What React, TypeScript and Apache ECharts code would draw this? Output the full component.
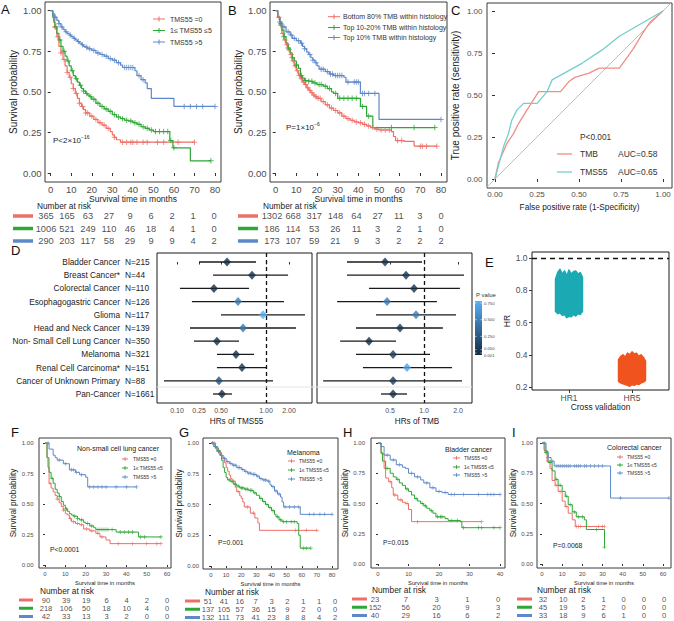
import React, { useEffect, useRef } from "react";
import * as echarts from "echarts";

const FONT = '"Liberation Sans", Arial, Helvetica, sans-serif';
const RED = "#EE6F68";
const GREEN = "#2DA736";
const BLUE = "#5D88C9";
const PLUS = "path://M4.1,0H5.9V4.1H10V5.9H5.9V10H4.1V5.9H0V4.1H4.1Z";

// ---------------- Panel A (TMS55 groups, pan-cancer) ----------------
const A_X_TICKS = [0, 10, 20, 30, 40, 50, 60, 70, 80];
const Y_TICKS = [0, 0.25, 0.5, 0.75, 1];
const A_LABELS = ["TMS55 =0", "1\u2264 TMS55 \u22645", "TMS55 >5"];
const A_TMS0 = [[0,1],[1,0.97],[2,0.9],[3,0.84],[4,0.78],[5,0.74],[6,0.7],[7,0.66],[8,0.62],[9,0.59],[10,0.55],[11,0.52],[12,0.49],[13,0.46],[14,0.43],[15,0.41],[16,0.39],[17,0.37],[19,0.35],[21,0.33],[23,0.31],[25,0.295],[27,0.275],[29,0.255],[30,0.235],[31,0.22],[32,0.205],[34,0.19],[70,0.19]];
const A_TMS0_CENS = [2,3.5,5,6.5,8,9.5,11,12.5,14,15.5,17,18,20,22,24,26,28,31,35,37,39,40,42,45,47,52,55,62,70];
const A_TMS15 = [[0,1],[1,0.96],[1.5,0.93],[2,0.9],[3,0.86],[4,0.82],[5,0.78],[6,0.75],[7,0.72],[8,0.69],[9,0.66],[10,0.63],[11,0.6],[12,0.58],[13,0.56],[14,0.54],[15,0.52],[16,0.505],[17,0.49],[18,0.48],[19,0.47],[20,0.455],[22,0.43],[24,0.41],[26,0.395],[28,0.38],[30,0.36],[32,0.345],[34,0.335],[36,0.325],[38,0.32],[40,0.31],[42,0.3],[44,0.285],[46,0.275],[48,0.265],[50,0.255],[58,0.2],[59.5,0.155],[68,0.075],[78,0.075]];
const A_TMS15_CENS = [2.5,4.5,6.5,8.5,10.5,12.5,14.5,16,17.5,19.5,21,23,25,27,29,31,33,35,37,39,41,43,45,47,49,51,53,55,57,58.5,60,78];
const A_TMS5 = [[0,1],[1,0.98],[2,0.96],[3,0.94],[4,0.92],[5,0.9],[6,0.885],[7,0.87],[8,0.86],[9,0.85],[10,0.84],[11,0.83],[12,0.82],[13,0.81],[14,0.8],[15,0.79],[16,0.78],[17,0.775],[18,0.765],[20,0.755],[22,0.74],[24,0.73],[26,0.72],[28,0.705],[30,0.695],[32,0.68],[34,0.665],[35,0.65],[41,0.63],[42,0.6],[44,0.575],[46,0.555],[47,0.52],[49,0.46],[60,0.41],[80,0.41]];
const A_TMS5_CENS = [2,4,5.5,7.5,9.5,11.5,13.5,15.5,17.5,19,21,23,25,27,29,31,33,36,37,38,39,40,43,45,65,68,71,74,80];
const A_RISK_TMS0 = [365,165,63,27,9,6,2,1,0];
const A_RISK_TMS15 = [1006,521,249,110,46,18,4,1,0];
const A_RISK_TMS5 = [290,203,117,58,29,9,9,4,2];

// ---------------- Panel B (TMB within histology) ----------------
const B_LABELS = ["Bottom 80% TMB within histology", "Top 10-20% TMB within histology", "Top 10% TMB within histology"];
const B_BOTTOM80 = [[0,1],[1,0.96],[2,0.91],[3,0.86],[4,0.82],[5,0.79],[6,0.76],[7,0.73],[8,0.69],[9,0.66],[10,0.63],[11,0.6],[12,0.58],[13,0.56],[14,0.545],[15,0.525],[16,0.51],[17,0.495],[18,0.48],[19,0.47],[20,0.46],[22,0.44],[24,0.42],[26,0.4],[28,0.385],[30,0.37],[32,0.35],[34,0.335],[36,0.325],[38,0.315],[40,0.31],[42,0.3],[44,0.29],[46,0.28],[48,0.27],[50,0.265],[56,0.255],[57,0.225],[58,0.2],[62,0.195],[67,0.165],[78,0.165]];
const B_BOTTOM80_CENS = [1.5,2.5,3.5,4.5,5.5,6.5,7.5,8.5,9.5,10.5,11.5,12.5,13.5,14.5,15.5,16.5,17.5,18.5,19.5,20.5,21.5,23,25,27,29,31,33,35,37,39,41,43,45,47,49,51,53,55,59,61,70,71,73,78];
const B_TOP1020 = [[0,1],[1,0.96],[2,0.92],[3,0.88],[4,0.84],[5,0.8],[6,0.77],[7,0.74],[8,0.71],[9,0.69],[10,0.665],[11,0.645],[12,0.6],[13,0.585],[14,0.57],[16,0.565],[18,0.555],[20,0.545],[23,0.535],[25,0.52],[27,0.5],[28,0.49],[30,0.46],[41,0.41],[44,0.35],[47,0.28],[77,0.28]];
const B_TOP1020_CENS = [2.5,4,6,8,10,12.5,14.5,16,17.5,19,21,22,24,26,29,31,33,35,37,39,42,45,56,67,77];
const B_TOP10 = [[0,1],[1,0.96],[2,0.93],[3,0.9],[5,0.87],[7,0.85],[8,0.83],[10,0.815],[12,0.8],[13,0.78],[14,0.765],[15,0.745],[16,0.73],[17,0.71],[18,0.695],[19,0.68],[20,0.66],[21,0.64],[24,0.625],[26,0.61],[28,0.6],[33,0.59],[34,0.56],[41,0.49],[50,0.33],[80,0.33]];
const B_TOP10_CENS = [2,4,6,7.5,9,11,12.5,14,16.5,18,19.5,22,23,25,26.5,27.5,29,30,31,32,35,38,39,40,42,43,45,48,80];
const B_RISK_BOTTOM80 = [1302,668,317,148,64,27,11,3,0];
const B_RISK_TOP1020 = [186,114,53,26,11,3,2,1,0];
const B_RISK_TOP10 = [173,107,59,21,9,3,2,2,2];

// ---------------- Panel C (ROC) ----------------
const C_TICKS = [0, 0.25, 0.5, 0.75, 1];
const ROC_TMB = [[0,0],[0.02,0.095],[0.07,0.21],[0.11,0.27],[0.14,0.33],[0.19,0.41],[0.26,0.52],[0.39,0.52],[0.44,0.58],[0.475,0.605],[0.56,0.63],[0.62,0.66],[0.74,0.66],[0.82,0.77],[0.88,0.87],[0.92,0.93],[1,1]];
const ROC_TMS55 = [[0,0],[0.01,0.04],[0.05,0.19],[0.08,0.27],[0.1,0.35],[0.13,0.41],[0.17,0.45],[0.25,0.45],[0.31,0.52],[0.34,0.59],[0.52,0.69],[0.64,0.77],[0.74,0.85],[1,1]];
const ROC_AUC = { TMB: "0.58", TMS55: "0.65" };

// ---------------- Panel D (forest) ----------------
const FOREST_NAMES = ["Bladder Cancer","Breast Cancer*","Colorectal Cancer","Esophagogastric Cancer","Glioma","Head and Neck Cancer","Non- Small Cell Lung Cancer","Melanoma","Renal Cell Carcinoma*","Cancer of Unknown Primary","Pan-Cancer"];
const FOREST_N = [215,44,110,126,117,139,350,321,151,88,1661];
const TMS55_HR = [0.365,0.696,0.26,0.485,0.925,0.552,0.281,0.46,0.537,0.296,0.32];
const TMS55_LO = [0.177,0.254,0.108,0.147,0.312,0.14,0.155,0.281,0.281,0.0714,0.254];
const TMS55_HI = [0.772,1.77,0.644,1.59,2.74,2.17,0.497,0.733,1.0,1.2,0.415];
const TMS55_P = [0.005,0.03,0.003,0.45,0.72,0.42,0.001,0.002,0.04,0.2,0.001];
const TMB_HR = [0.452,0.693,0.816,0.471,0.85,0.613,0.326,0.532,0.707,0.532,0.532];
const TMB_LO = [0.208,0.208,0.326,0.17,0.376,0.25,0.181,0.25,0.288,0.128,0.416];
const TMB_HI = [0.96,2.26,2.08,1.3,1.92,1.47,0.565,1.13,1.77,2.17,0.707];
const TMB_P = [0.03,0.05,0.04,0.45,0.45,0.06,0.001,0.08,0.68,0.08,0.001];
const DL_TICK_LABELS = ["0.10","0.25","0.50","1.00","2.00"];
const DL_TICK_POS = [-1, -0.753, -0.506, 0, 0.258]; // axis positions of the printed labels
const DR_TICK_HR = [0.5, 1, 2];
const PVAL_TICKS = [0.75, 0.5, 0.25, 0.05, 0.001];

// ---------------- Panel E (cross validation) ----------------
const E_GROUPS = ["HR1", "HR5"];
const E_SUMMARY = [[0.63,0.74,0.775,0.814,0.93],[0.205,0.294,0.315,0.337,0.418]]; // min,q1,med,q3,max
const E_TOP = [[0.87,0.91,0.93,0.9,0.92,0.89,0.925,0.9,0.915,0.92,0.9,0.91,0.88],[0.37,0.39,0.4,0.385,0.41,0.4,0.418,0.405,0.41,0.39,0.4,0.385,0.36]];
const E_BOTTOM = [[0.67,0.655,0.66,0.645,0.65,0.63,0.64,0.635,0.65,0.64,0.655,0.65,0.67],[0.235,0.225,0.22,0.215,0.21,0.205,0.215,0.21,0.22,0.215,0.225,0.23,0.24]];
const E_Y_TICKS = [0.2, 0.4, 0.6, 0.8, 1.0];

// ---------------- Panel F (NSCLC) ----------------
const SMALL_LABELS = ["TMS55 =0", "1\u2264 TMS55 \u22645", "TMS55 >5"];
const F_X_TICKS = [0,10,20,30,40,50,60];
const F_TMS0 = [[0,1],[1,0.88],[2,0.67],[3,0.63],[4,0.6],[5,0.57],[6,0.54],[7,0.51],[8,0.48],[9,0.45],[10,0.42],[11,0.41],[12,0.38],[13,0.355],[15,0.34],[17,0.33],[19,0.295],[22,0.28],[25,0.26],[27,0.23],[30,0.205],[32,0.175],[57,0.175]];
const F_TMS0_CENS = [2.5,6,9,12.5,14,16,18,20.5,23,26,28,36,43,50,55,57];
const F_TMS15 = [[0,1],[1,0.88],[1.5,0.8],[2,0.76],[3,0.71],[4,0.67],[5,0.62],[6,0.59],[7,0.56],[8,0.52],[9,0.49],[10,0.46],[11,0.44],[12,0.42],[13,0.41],[14,0.4],[16,0.38],[17,0.37],[19,0.35],[20,0.34],[22,0.32],[24,0.305],[25,0.29],[35,0.27],[46,0.23],[57,0.23]];
const F_TMS15_CENS = [3.5,7,10.5,14.5,16,18,21,23,26,27,28,29,30,31,33,37,39,41,43,47,49,57];
const F_TMS5 = [[0,1],[2,0.95],[4,0.9],[5,0.88],[6,0.86],[9,0.83],[12,0.78],[15,0.76],[17,0.74],[20,0.72],[21,0.64],[45,0.64]];
const F_TMS5_CENS = [1.5,7,10,13,14,15.5,18,22,24,26,28,30,35,40,45];
const F_RISK = [[90,39,19,6,4,2,0],[218,106,50,18,10,4,0],[42,33,13,3,2,0,0]];

// ---------------- Panel G (Melanoma) ----------------
const G_X_TICKS = [0,10,20,30,40,50,60,70,80];
const G_TMS0 = [[0,1],[3,0.96],[5,0.92],[7,0.88],[9,0.84],[10,0.8],[11,0.77],[12,0.74],[13,0.71],[14,0.69],[16,0.64],[17,0.605],[19,0.57],[20,0.55],[21,0.52],[22,0.48],[26,0.43],[29,0.39],[31,0.35],[32,0.29],[70,0.29]];
const G_TMS0_CENS = [2,6,8,15,18,24,28,56,63,70];
const G_TMS15 = [[0,1],[2,0.97],[4,0.94],[6,0.9],[7,0.86],[8,0.8],[9,0.76],[10,0.72],[11,0.7],[13,0.685],[15,0.665],[17,0.65],[19,0.635],[22,0.625],[25,0.615],[28,0.595],[30,0.575],[32,0.55],[34,0.525],[36,0.5],[38,0.475],[40,0.45],[42,0.42],[43,0.4],[45,0.375],[47,0.36],[57,0.345],[58,0.25],[59,0.145],[66,0.145]];
const G_TMS15_CENS = [3,5,12,14,16,18,20,21,23,24,26,27,29,33,35,37,39,41,44,46,48,50,53,55,61,63,66];
const G_TMS5 = [[0,1],[2,0.97],[4,0.93],[6,0.9],[8,0.875],[10,0.85],[12,0.835],[14,0.82],[17,0.8],[20,0.785],[22,0.77],[24,0.755],[27,0.745],[30,0.73],[32,0.71],[34,0.7],[37,0.69],[39,0.66],[40,0.645],[42,0.61],[44,0.585],[46,0.56],[47,0.52],[48,0.48],[59,0.42],[80,0.42]];
const G_TMS5_CENS = [1,3,5,7,9,11,13,15,16,18,19,21,23,25,26,28,29,31,33,35,36,38,41,43,45,49,52,55,58,65,68,72,75,80];
const G_RISK = [[51,41,16,7,3,2,1,1,0],[137,105,57,36,15,9,2,0,0],[132,111,73,41,23,8,8,4,2]];

// ---------------- Panel H (Bladder) ----------------
const H_X_TICKS = [0,10,20,30,40];
const H_TMS0 = [[0,1],[1,0.91],[2,0.79],[2.5,0.71],[3.5,0.68],[4.5,0.63],[5,0.57],[6.5,0.53],[8,0.51],[9,0.5],[10,0.45],[11,0.35],[34,0.35]];
const H_TMS0_CENS = [4,5.5,7.5,9.5,13,34];
const H_TMS15 = [[0,1],[1,0.92],[1.5,0.85],[2.5,0.79],[4,0.75],[5,0.72],[6,0.7],[7,0.67],[8,0.65],[9,0.62],[10,0.6],[11,0.57],[12,0.54],[13,0.52],[14,0.5],[15,0.48],[16,0.46],[17,0.44],[18,0.42],[19,0.39],[22,0.375],[23,0.36],[27,0.35],[27.5,0.3],[40,0.3]];
const H_TMS15_CENS = [3,6.5,9.5,12.5,14.5,15.5,17.5,19.5,20.5,21,24,26,28,33,34,38,40];
const H_TMS5 = [[0,1],[1,0.97],[2,0.9],[4,0.86],[6,0.82],[8,0.8],[9,0.79],[10,0.75],[12,0.72],[14,0.695],[15,0.67],[17,0.63],[19,0.6],[21,0.59],[23,0.575],[40,0.575]];
const H_TMS5_CENS = [3,5,7,11,13,16,18,20,22,24,25,28,33,36,37,38,40];
const H_RISK = [[23,7,3,1,0],[152,56,20,9,3],[40,29,16,6,2]];

// ---------------- Panel I (Colorectal) ----------------
const I_X_TICKS = [0,10,20,30,40,50,60];
const I_TMS0 = [[0,1],[1,0.94],[2.5,0.85],[4,0.79],[5,0.69],[6.5,0.65],[8,0.6],[10,0.52],[11.5,0.475],[13,0.42],[15,0.365],[16.5,0.31],[31,0.31]];
const I_TMS0_CENS = [3,7,9,12,17,18,19,28,30,31];
const I_TMS15 = [[0,1],[1.5,0.92],[3,0.84],[5,0.77],[6.5,0.7],[8,0.65],[10,0.6],[11.5,0.56],[13,0.49],[15,0.43],[17,0.39],[21,0.365],[22,0.285],[31,0.14]];
const I_TMS15_CENS = [2,4,7,9,12,14,16,18,20,27,31];
const I_TMS5 = [[0,1],[2,0.93],[3,0.88],[4.5,0.85],[6,0.81],[34,0.545],[63,0.545]];
const I_TMS5_CENS = [1,3,5,7,8,9,10,11,12,13,14,16,17,18,19,21,22,24,26,28,30,39,63];
const I_RISK = [[32,10,2,1,0,0,0],[45,19,5,2,0,0,0],[33,18,9,6,1,0,0]];

// ---------------- helpers ----------------
function rng(m: number[], a: number, b: number) {
  const [p0, v0, p1, v1] = m;
  const k = (v1 - v0) / (p1 - p0);
  const va = v0 + (a - p0) * k;
  const vb = v0 + (b - p0) * k;
  return [Math.min(va, vb), Math.max(va, vb)];
}
function stepAt(c: number[][], t: number) {
  let v = c[0][1];
  for (const [tt, s] of c) {
    if (tt <= t) v = s;
    else break;
  }
  return v;
}

function buildOption() {
  const grid: any[] = [];
  const xAxis: any[] = [];
  const yAxis: any[] = [];
  const series: any[] = [];
  const g: any[] = [];

  const txt = (x: number, y: number, text: string, fs: number, o: any = {}) =>
    g.push({
      type: "text", x, y, silent: true, z: 100,
      style: { text, fontSize: fs, fontFamily: FONT, fill: o.fill || "#222", textAlign: o.align || "left", textVerticalAlign: "middle", rich: o.rich },
    });
  const ln = (x1: number, y1: number, x2: number, y2: number, stroke: string, w: number, dash?: number[]) =>
    g.push({ type: "line", silent: true, z: 100, shape: { x1, y1, x2, y2 }, style: { stroke, lineWidth: w, lineDash: dash } });

  const addGrid = (L: number, T: number, R: number, B: number, show: boolean, border = "#3a3a3a") => {
    grid.push({ left: L, top: T, width: R - L, height: B - T, show, borderColor: border, borderWidth: 1, backgroundColor: "transparent" });
    return grid.length - 1;
  };

  function kmPanel(cfg: any) {
    const [L, T, R, B] = cfg.box;
    const gi = addGrid(L, T, R, B, true);
    const [xmin, xmax] = rng(cfg.xMap, L, R);
    const [ymin, ymax] = rng(cfg.yMap, T, B);
    const xi = xAxis.length;
    xAxis.push({
      type: "value", gridIndex: gi, min: xmin, max: xmax, position: "bottom",
      splitLine: { show: false }, axisLine: { show: false },
      axisTick: { show: true, customValues: cfg.xTicks, length: cfg.tick, lineStyle: { color: "#333" } },
      axisLabel: { customValues: cfg.xTicks, fontSize: cfg.fs, color: "#4d4d4d", margin: cfg.xlm, fontFamily: FONT },
      name: "Survival time in months", nameLocation: "middle", nameGap: cfg.xng,
      nameTextStyle: { fontSize: cfg.xns, color: "#222", fontFamily: FONT },
    });
    const yi = yAxis.length;
    yAxis.push({
      type: "value", gridIndex: gi, min: ymin, max: ymax, position: "left",
      splitLine: { show: false }, axisLine: { show: false },
      axisTick: { show: true, customValues: Y_TICKS, length: cfg.tick, lineStyle: { color: "#333" } },
      axisLabel: { customValues: Y_TICKS, fontSize: cfg.fs, color: "#4d4d4d", margin: cfg.ylm, fontFamily: FONT, formatter: (v: number) => v.toFixed(2) },
      name: "Survival probability", nameLocation: "middle", nameGap: cfg.yng,
      nameTextStyle: { fontSize: cfg.yns, color: "#222", fontFamily: FONT },
    });
    cfg.curves.forEach((c: any) => {
      series.push({
        type: "line", xAxisIndex: xi, yAxisIndex: yi, step: "end", data: c.d, symbol: "none",
        lineStyle: { color: c.col, width: cfg.lw }, silent: true, z: 3,
      });
      series.push({
        type: "scatter", xAxisIndex: xi, yAxisIndex: yi, symbol: PLUS, symbolSize: cfg.sym,
        data: c.cens.map((t: number) => [t, stepAt(c.d, t)]), itemStyle: { color: c.col }, silent: true, z: 4,
      });
    });
  }

  function riskTable(cfg: any) {
    const gi = addGrid(cfg.x0, cfg.r0, cfg.x1, cfg.r2, false);
    const n = cfg.rows[0].length;
    const xi = xAxis.length;
    xAxis.push({ type: "value", gridIndex: gi, min: 0, max: (n - 1) * 10, show: false });
    const yi = yAxis.length;
    yAxis.push({ type: "value", gridIndex: gi, min: 0, max: 2, inverse: true, show: false });
    const data: any[] = [];
    cfg.rows.forEach((arr: number[], ri: number) => arr.forEach((v, k) => data.push([k * 10, ri, v])));
    series.push({
      type: "scatter", xAxisIndex: xi, yAxisIndex: yi, data, symbolSize: 1, clip: false, silent: true,
      itemStyle: { color: "rgba(0,0,0,0)" },
      label: { show: true, position: "inside", formatter: (p: any) => String(p.value[2]), fontSize: cfg.fs, color: "#1a1a1a", fontFamily: FONT },
    });
    txt(cfg.tx, cfg.ty, "Number at risk", 8.3);
    const cols = [RED, GREEN, BLUE];
    [cfg.r0, (cfg.r0 + cfg.r2) / 2, cfg.r2].forEach((y: number, i: number) => ln(cfg.s0, y, cfg.s1, y, cols[i], cfg.sw || 3.5));
  }

  function legend(x1: number, x2: number, xt: number, ys: number[], labels: string[], fs: number, cs: number) {
    const cols = [RED, GREEN, BLUE];
    ys.forEach((y, i) => {
      ln(x1, y, x2, y, cols[i], 1);
      const xm = (x1 + x2) / 2;
      ln(xm, y - cs, xm, y + cs, cols[i], 1);
      txt(xt, y, labels[i], fs, { fill: "#333" });
    });
  }

  // ---- A ----
  kmPanel({
    box: [45, 2, 221, 182], xMap: [50.7, 0, 215, 80], yMap: [10.7, 1, 173, 0], xTicks: A_X_TICKS,
    fs: 9.5, tick: 3, xlm: 2, ylm: 3.5, xng: 12.5, xns: 8.5, yng: 27, yns: 10, lw: 1.2, sym: 5.5,
    curves: [
      { d: A_TMS0, cens: A_TMS0_CENS, col: RED },
      { d: A_TMS15, cens: A_TMS15_CENS, col: GREEN },
      { d: A_TMS5, cens: A_TMS5_CENS, col: BLUE },
    ],
  });
  legend(153, 165, 170, [19, 30.5, 42], A_LABELS, 7, 2.5);
  txt(53, 140, "{a|P<2\u00d710}{s|\u221216}", 8, { rich: { a: { fontSize: 8, fontFamily: FONT, fill: "#222" }, s: { fontSize: 5, fontFamily: FONT, verticalAlign: "top", padding: [0, 0, 6, 0] } } });
  riskTable({ x0: 46, x1: 214, r0: 216, r2: 241, rows: [A_RISK_TMS0, A_RISK_TMS15, A_RISK_TMS5], fs: 9.3, tx: 37, ty: 205.5, s0: 13, s1: 33 });

  // ---- B ----
  kmPanel({
    box: [270, 2, 447, 182], xMap: [275.7, 0, 441, 80], yMap: [10.7, 1, 173, 0], xTicks: A_X_TICKS,
    fs: 9.5, tick: 3, xlm: 2, ylm: 3.5, xng: 12.5, xns: 8.5, yng: 27, yns: 10, lw: 1.2, sym: 5.5,
    curves: [
      { d: B_BOTTOM80, cens: B_BOTTOM80_CENS, col: RED },
      { d: B_TOP1020, cens: B_TOP1020_CENS, col: GREEN },
      { d: B_TOP10, cens: B_TOP10_CENS, col: BLUE },
    ],
  });
  legend(328, 340, 343, [16.7, 27.5, 37.5], B_LABELS, 7, 2.5);
  txt(286, 127, "{a|P=1\u00d710}{s|\u22126}", 8, { rich: { a: { fontSize: 8, fontFamily: FONT, fill: "#222" }, s: { fontSize: 5, fontFamily: FONT, verticalAlign: "top", padding: [0, 0, 6, 0] } } });
  riskTable({ x0: 272, x1: 441, r0: 216, r2: 241, rows: [B_RISK_BOTTOM80, B_RISK_TOP1020, B_RISK_TOP10], fs: 9.3, tx: 263, ty: 205.5, s0: 238, s1: 258 });

  // ---- C ----
  {
    const [L, T, R, B] = [487, 3, 672, 188];
    const gi = addGrid(L, T, R, B, true);
    const [xmin, xmax] = rng([495, 0, 663, 1], L, R);
    const [ymin, ymax] = rng([11, 1, 179, 0], T, B);
    const xi = xAxis.length;
    xAxis.push({
      type: "value", gridIndex: gi, min: xmin, max: xmax, position: "bottom", splitLine: { show: false }, axisLine: { show: false },
      axisTick: { customValues: C_TICKS, length: 3, lineStyle: { color: "#333" } },
      axisLabel: { customValues: C_TICKS, fontSize: 8, color: "#4d4d4d", margin: 2.5, formatter: (v: number) => v.toFixed(2) },
      name: "False positive rate (1-Specificity)", nameLocation: "middle", nameGap: 15, nameTextStyle: { fontSize: 8.3, color: "#222" },
    });
    const yi = yAxis.length;
    yAxis.push({
      type: "value", gridIndex: gi, min: ymin, max: ymax, position: "left", splitLine: { show: false }, axisLine: { show: false },
      axisTick: { customValues: C_TICKS, length: 3, lineStyle: { color: "#333" } },
      axisLabel: { customValues: C_TICKS, fontSize: 8, color: "#4d4d4d", margin: 4.5, formatter: (v: number) => v.toFixed(2) },
      name: "True positive rate (sensitivity)", nameLocation: "middle", nameGap: 27, nameTextStyle: { fontSize: 10, color: "#222" },
    });
    series.push({ type: "line", xAxisIndex: xi, yAxisIndex: yi, data: [[-1, -1], [2, 2]], symbol: "none", lineStyle: { color: "#bdbdbd", width: 1 }, silent: true });
    series.push({ type: "line", xAxisIndex: xi, yAxisIndex: yi, data: ROC_TMB, symbol: "none", lineStyle: { color: "#EE8E84", width: 1.3 }, silent: true });
    series.push({ type: "line", xAxisIndex: xi, yAxisIndex: yi, data: ROC_TMS55, symbol: "none", lineStyle: { color: "#74CFCB", width: 1.3 }, silent: true });
    txt(580, 137, "P<0.001", 8.3, { fill: "#333" });
    ln(557, 154, 572, 154, "#EE8E84", 1.3);
    ln(557, 172, 572, 172, "#74CFCB", 1.3);
    txt(580, 154, "TMB", 8.5, { fill: "#333" });
    txt(618, 154, "AUC=" + ROC_AUC.TMB, 8.5, { fill: "#333" });
    txt(580, 172, "TMS55", 8.5, { fill: "#333" });
    txt(618, 172, "AUC=" + ROC_AUC.TMS55, 8.5, { fill: "#333" });
  }

  // ---- D ----
  const rowIdx = FOREST_NAMES.map((_, i) => i);
  const [rmin, rmax] = rng([262, 0, 394, 10], 253, 403);
  const diamondIdx: number[] = [];
  function forest(cfg: any) {
    const gi = addGrid(cfg.L, 253, cfg.R, 403, true, "#1a1a1a");
    const xi = xAxis.length;
    xAxis.push({
      type: "value", gridIndex: gi, min: cfg.xmin, max: cfg.xmax, position: "bottom", splitLine: { show: false }, axisLine: { show: false },
      axisTick: { customValues: cfg.ticks, length: 2.5, lineStyle: { color: "#333" } },
      axisLabel: { customValues: cfg.ticks, fontSize: 7, color: "#4d4d4d", margin: 3.5, formatter: cfg.fmt },
      name: cfg.name, nameLocation: "middle", nameGap: 14.5, nameTextStyle: { fontSize: 8.2, color: "#222", padding: cfg.namePad },
    });
    const yi = yAxis.length;
    yAxis.push(cfg.names ? {
      type: "value", gridIndex: gi, min: rmin, max: rmax, inverse: true, position: "left", splitLine: { show: false }, axisLine: { show: false },
      axisTick: { show: false },
      axisLabel: { customValues: rowIdx, fontSize: 8.3, color: "#222", margin: 37, formatter: (v: number) => FOREST_NAMES[Math.round(v)] },
    } : { type: "value", gridIndex: gi, min: rmin, max: rmax, inverse: true, show: false });
    if (cfg.names) {
      yAxis.push({
        type: "value", gridIndex: gi, min: rmin, max: rmax, inverse: true, position: "left", offset: 0, splitLine: { show: false }, axisLine: { show: false },
        axisTick: { show: false },
        axisLabel: { customValues: rowIdx, fontSize: 8.3, color: "#222", margin: 32, align: "left", formatter: (v: number) => "N=" + FOREST_N[Math.round(v)] },
      });
    }
    series.push({
      type: "custom", xAxisIndex: xi, yAxisIndex: yi, silent: true, z: 2,
      data: cfg.hr.map((_: number, i: number) => [Math.log10(cfg.lo[i]), Math.log10(cfg.hi[i]), i]),
      encode: { x: [0, 1], y: 2 },
      renderItem: (_p: any, api: any) => {
        const a = api.coord([api.value(0), api.value(2)]);
        const b = api.coord([api.value(1), api.value(2)]);
        return { type: "line", shape: { x1: a[0], y1: a[1], x2: b[0], y2: b[1] }, style: { stroke: "#1a1a1a", lineWidth: 1.3 } };
      },
      markLine: { silent: true, symbol: ["none", "none"], label: { show: false }, lineStyle: { color: "#111", type: [4, 3], width: 1.3 }, data: [{ xAxis: 0 }] },
    });
    diamondIdx.push(series.length);
    series.push({
      type: "scatter", xAxisIndex: xi, yAxisIndex: yi, symbol: "diamond", symbolSize: [8, 9], z: 3, silent: true,
      data: cfg.hr.map((h: number, i: number) => [Math.log10(h), i, cfg.p[i]]),
    });
  }
  const [dlmin, dlmax] = rng([266, 0, 177, -1], 157, 312);
  forest({
    L: 157, R: 312, xmin: dlmin, xmax: dlmax, ticks: DL_TICK_POS, names: true, name: "HRs of TMS55", namePad: [0, 0, 0, 4],
    fmt: (v: number) => {
      let bi = 0;
      DL_TICK_POS.forEach((p, i) => { if (Math.abs(p - v) < Math.abs(DL_TICK_POS[bi] - v)) bi = i; });
      return DL_TICK_LABELS[bi];
    },
    hr: TMS55_HR, lo: TMS55_LO, hi: TMS55_HI, p: TMS55_P,
  });
  const [drmin, drmax] = rng([424, 0, 390, Math.log10(0.5)], 317, 472);
  forest({
    L: 317, R: 472, xmin: drmin, xmax: drmax, ticks: DR_TICK_HR.map((h) => Math.log10(h)), names: false, name: "HRs of TMB", namePad: [0, 0, 0, 45],
    fmt: (v: number) => Math.pow(10, v).toFixed(1),
    hr: TMB_HR, lo: TMB_LO, hi: TMB_HI, p: TMB_P,
  });
  ln(157, 387, 472, 387, "#e3e3e3", 1);
  // P value colour bar
  g.push({
    type: "rect", silent: true, z: 100, shape: { x: 475, y: 301, width: 7, height: 54 },
    style: { fill: new echarts.graphic.LinearGradient(0, 0, 0, 1, [{ offset: 0, color: "#56B1F7" }, { offset: 1, color: "#132B43" }]) },
  });
  txt(476, 295, "P value", 6, { fill: "#333" });
  PVAL_TICKS.forEach((p, i) => {
    const y = 353 - ((p - 0.001) / (0.75 - 0.001)) * 50;
    ln(475, y, 476.5, y, "#fff", 0.6);
    ln(480.5, y, 482, y, "#fff", 0.6);
    const dy = i === 3 ? -1.5 : i === 4 ? 2 : 0;
    txt(484, y + dy, p.toFixed(3), 4.2, { fill: "#444" });
  });

  // ---- E ----
  {
    const [L, T, R, B] = [532, 252, 669, 390];
    const gi = addGrid(L, T, R, B, true, "#1a1a1a");
    const [xmin, xmax] = rng([569, 1, 632, 2], L, R);
    const [ymin, ymax] = rng([258, 1.0, 387, 0.2], T, B);
    const xi = xAxis.length;
    xAxis.push({
      type: "value", gridIndex: gi, min: xmin, max: xmax, position: "bottom", splitLine: { show: false }, axisLine: { show: false },
      axisTick: { customValues: [1, 2], length: 3, lineStyle: { color: "#333" } },
      axisLabel: { customValues: [1, 2], fontSize: 8.5, color: "#4d4d4d", margin: 3, formatter: (v: number) => E_GROUPS[Math.round(v) - 1] },
      name: "Cross validation", nameLocation: "middle", nameGap: 12, nameTextStyle: { fontSize: 8.4, color: "#222" },
    });
    const yi = yAxis.length;
    yAxis.push({
      type: "value", gridIndex: gi, min: ymin, max: ymax, position: "left", splitLine: { show: false }, axisLine: { show: false },
      axisTick: { customValues: E_Y_TICKS, length: 3, lineStyle: { color: "#333" } },
      axisLabel: { customValues: E_Y_TICKS, fontSize: 8.5, color: "#4d4d4d", margin: 4.5, formatter: (v: number) => v.toFixed(1) },
      name: "HR", nameLocation: "middle", nameGap: 18, nameTextStyle: { fontSize: 8.5, color: "#222" },
    });
    const fills = ["#1BA9B4", "#F0531E"];
    const boxes = ["#8ED4DA", "#F6A98E"];
    series.push({
      type: "custom", xAxisIndex: xi, yAxisIndex: yi, silent: true, z: 3,
      data: E_SUMMARY.map((q, i) => [i + 1, ...q]),
      encode: { x: 0, y: [1, 5] },
      renderItem: (params: any, api: any) => {
        const i = params.dataIndex;
        const x = api.value(0);
        const mn = api.value(1), q1 = api.value(2), md = api.value(3), q3 = api.value(4), mx = api.value(5);
        const bw = 0.179, jw = 0.214;
        const c = (xx: number, yy: number) => api.coord([xx, yy]);
        const tl = c(x - bw, q3), br = c(x + bw, q1);
        const m1 = c(x - bw, md), m2 = c(x + bw, md);
        const w1 = c(x, q3), w2 = c(x, mx), w3 = c(x, q1), w4 = c(x, mn);
        const top = E_TOP[i], bot = E_BOTTOM[i];
        const n = top.length;
        const pts: number[][] = [];
        top.forEach((v, k) => pts.push(c(x - jw + (2 * jw * k) / (n - 1), v)));
        for (let k = n - 1; k >= 0; k--) pts.push(c(x - jw + (2 * jw * k) / (n - 1), bot[k]));
        const st = { stroke: boxes[i], lineWidth: 1, fill: "none" };
        return {
          type: "group",
          children: [
            { type: "line", shape: { x1: w1[0], y1: w1[1], x2: w2[0], y2: w2[1] }, style: st },
            { type: "line", shape: { x1: w3[0], y1: w3[1], x2: w4[0], y2: w4[1] }, style: st },
            { type: "rect", shape: { x: tl[0], y: tl[1], width: br[0] - tl[0], height: br[1] - tl[1] }, style: st },
            { type: "line", shape: { x1: m1[0], y1: m1[1], x2: m2[0], y2: m2[1] }, style: st },
            { type: "polygon", shape: { points: pts }, style: { fill: fills[i], stroke: fills[i], lineWidth: 1.5, lineJoin: "round" } },
          ],
        };
      },
      markLine: { silent: true, symbol: "none", label: { show: false }, lineStyle: { color: "#111", type: [5, 4], width: 1.3 }, data: [{ yAxis: 1.0 }] },
    });
  }

  // ---- F, G, H, I ----
  const small = { fs: 6, tick: 2, xlm: 3, xng: 12, xns: 5.8, yns: 8.2, lw: 1, sym: 4 };
  const RFS = 7.6;
  kmPanel({ ...small, box: [39, 438, 171, 568], xMap: [45, 0, 167, 60], yMap: [443, 1, 565, 0], xTicks: F_X_TICKS, ylm: 5.5, yng: 22,
    curves: [{ d: F_TMS0, cens: F_TMS0_CENS, col: RED }, { d: F_TMS15, cens: F_TMS15_CENS, col: GREEN }, { d: F_TMS5, cens: F_TMS5_CENS, col: BLUE }] });
  txt(77, 448, "Non-small cell lung cancer", 7);
  legend(122, 128, 133, [459, 468, 477], SMALL_LABELS, 5, 1.8);
  txt(50, 549, "P<0.0001", 6.8);
  riskTable({ x0: 46, x1: 167, r0: 600, r2: 616.5, rows: F_RISK, fs: RFS, tx: 40, ty: 590.5, s0: 19, s1: 33, sw: 3 });

  kmPanel({ ...small, box: [203, 438, 338, 569], xMap: [211, 0, 332, 80], yMap: [443, 1, 566, 0], xTicks: G_X_TICKS, ylm: 4, yng: 19,
    curves: [{ d: G_TMS0, cens: G_TMS0_CENS, col: RED }, { d: G_TMS15, cens: G_TMS15_CENS, col: GREEN }, { d: G_TMS5, cens: G_TMS5_CENS, col: BLUE }] });
  txt(287, 452, "Melanoma", 7);
  legend(288, 295, 299, [461, 470, 479], SMALL_LABELS, 5, 1.8);
  txt(218, 542, "P=0.001", 6.8);
  riskTable({ x0: 208, x1: 335, r0: 601, r2: 617.5, rows: G_RISK, fs: RFS, tx: 205, ty: 591.5, s0: 185, s1: 200, sw: 3 });

  kmPanel({ ...small, box: [371, 438, 505, 568], xMap: [378, 0, 500, 40], yMap: [443, 1, 564, 0], xTicks: H_X_TICKS, ylm: 6, yng: 21,
    curves: [{ d: H_TMS0, cens: H_TMS0_CENS, col: RED }, { d: H_TMS15, cens: H_TMS15_CENS, col: GREEN }, { d: H_TMS5, cens: H_TMS5_CENS, col: BLUE }] });
  txt(445, 449, "Bladder cancer", 7);
  legend(453, 460, 464, [458, 467, 475], SMALL_LABELS, 5, 1.8);
  txt(383, 542, "P=0.015", 6.8);
  riskTable({ x0: 375, x1: 498, r0: 599, r2: 615.5, rows: H_RISK, fs: RFS, tx: 372, ty: 589.5, s0: 352, s1: 367, sw: 3 });

  kmPanel({ ...small, box: [537, 438, 671, 568], xMap: [542, 0, 663, 60], yMap: [443, 1, 564, 0], xTicks: I_X_TICKS, ylm: 4, yng: 19,
    curves: [{ d: I_TMS0, cens: I_TMS0_CENS, col: RED }, { d: I_TMS15, cens: I_TMS15_CENS, col: GREEN }, { d: I_TMS5, cens: I_TMS5_CENS, col: BLUE }] });
  txt(607, 447, "Colorectal cancer", 7);
  legend(617, 623, 627, [457, 465, 473], SMALL_LABELS, 5, 1.8);
  txt(553, 545, "P=0.0068", 6.8);
  riskTable({ x0: 543, x1: 664, r0: 599, r2: 615.5, rows: I_RISK, fs: RFS, tx: 537, ty: 589.5, s0: 517, s1: 532, sw: 3 });

  // panel letters
  const letters: [string, number, number][] = [["A", 1, 9], ["B", 228, 10], ["C", 451, 10], ["D", 11, 250], ["E", 485, 262], ["F", 11, 432], ["G", 179, 432], ["H", 343, 432], ["I", 512, 432]];
  letters.forEach(([t, x, y]) => txt(x, y, t, 13, { fill: "#111" }));

  return {
    animation: false,
    backgroundColor: "#ffffff",
    textStyle: { fontFamily: FONT },
    grid, xAxis, yAxis, series,
    visualMap: [{
      type: "continuous", show: false, min: 0.001, max: 0.75, dimension: 2, seriesIndex: diamondIdx,
      inRange: { color: ["#132B43", "#56B1F7"] },
    }],
    graphic: { elements: g },
  };
}

export default function App() {
  const ref = useRef<HTMLDivElement>(null);
  useEffect(() => {
    if (!ref.current) return;
    const chart = echarts.init(ref.current, undefined, { renderer: "svg" });
    chart.setOption(buildOption() as any);
    return () => chart.dispose();
  }, []);
  return <div ref={ref} style={{ position: "absolute", left: 0, top: 0, width: 674, height: 621, background: "#fff" }} />;
}
